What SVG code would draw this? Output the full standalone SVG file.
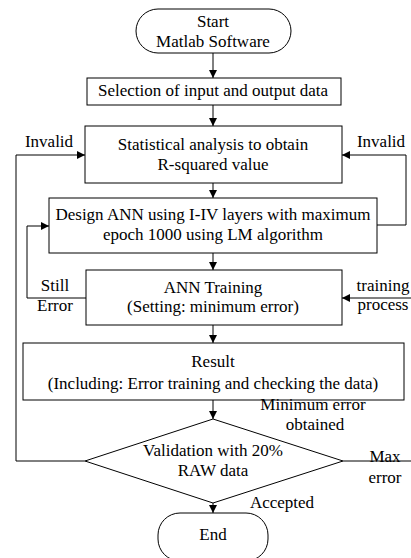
<svg xmlns="http://www.w3.org/2000/svg" width="411" height="558" viewBox="0 0 411 558">
<defs>
<style>
.box{fill:#fff;stroke:#000;stroke-width:1}
.t{font-family:"Liberation Serif","Times New Roman",serif;font-size:17px;fill:#000;text-anchor:middle}
.c{fill:none;stroke:#000;stroke-width:1}
</style>
<marker id="ah" viewBox="0 0 10 10" refX="10" refY="5" markerWidth="8" markerHeight="8" markerUnits="userSpaceOnUse" orient="auto">
<path d="M0,0 L10,5 L0,10 z" fill="#000"/>
</marker>
</defs>
<rect width="411" height="558" fill="#fff"/>
<g id="connectors">
<line class="c" x1="213" y1="53" x2="213" y2="78" marker-end="url(#ah)"/>
<line class="c" x1="213" y1="105" x2="213" y2="126" marker-end="url(#ah)"/>
<line class="c" x1="213" y1="183" x2="213" y2="198" marker-end="url(#ah)"/>
<line class="c" x1="213" y1="253" x2="213" y2="270" marker-end="url(#ah)"/>
<line class="c" x1="213" y1="325" x2="213" y2="343" marker-end="url(#ah)"/>
<line class="c" x1="213" y1="400" x2="213" y2="419" marker-end="url(#ah)"/>
<line class="c" x1="213" y1="503" x2="213" y2="513" marker-end="url(#ah)"/>
<polyline class="c" points="85,461 16,461 16,155 85,155" marker-end="url(#ah)"/>
<polyline class="c" points="377,225 406,225 406,155 342,155" marker-end="url(#ah)"/>
<polyline class="c" points="86,298 27,298 27,226 49,226" marker-end="url(#ah)"/>
<line class="c" x1="411" y1="298" x2="342" y2="298" marker-end="url(#ah)"/>
<line class="c" x1="343" y1="461" x2="411" y2="461"/>
</g>
<g id="start">
<rect class="box" x="136" y="9" width="155" height="44" rx="22" ry="22"/>
<text class="t" x="213" y="27">Start</text>
<text class="t" x="213" y="47">Matlab Software</text>
</g>
<g id="selection">
<rect class="box" x="87" y="78" width="254" height="27"/>
<text class="t" x="213" y="96">Selection of input and output data</text>
</g>
<g id="statistical">
<rect class="box" x="85" y="126" width="257" height="57"/>
<text class="t" x="213" y="150">Statistical analysis to obtain</text>
<text class="t" x="213" y="170">R-squared value</text>
</g>
<g id="design">
<rect class="box" x="49" y="198" width="328" height="55"/>
<text class="t" x="213" y="220">Design ANN using I-IV layers with maximum</text>
<text class="t" x="213" y="240">epoch 1000 using LM algorithm</text>
</g>
<g id="training">
<rect class="box" x="86" y="270" width="256" height="55"/>
<text class="t" x="213" y="293">ANN Training</text>
<text class="t" x="213" y="312">(Setting: minimum error)</text>
</g>
<g id="result">
<rect class="box" x="23" y="343" width="381" height="57"/>
<text class="t" x="213" y="367">Result</text>
<text class="t" x="213" y="389">(Including: Error training and checking the data)</text>
</g>
<g id="validation">
<polygon class="box" points="213,419 343,461 213,503 85,461"/>
<text class="t" x="213" y="456">Validation with 20%</text>
<text class="t" x="213" y="476">RAW data</text>
</g>
<g id="end">
<rect class="box" x="158" y="513" width="110" height="48" rx="22" ry="22"/>
<text class="t" x="213" y="540">End</text>
</g>
<g id="labels">
<text class="t" x="49" y="147">Invalid</text>
<text class="t" x="381" y="147">Invalid</text>
<text class="t" x="55" y="291">Still</text>
<text class="t" x="55" y="311">Error</text>
<text class="t" x="383" y="291">training</text>
<text class="t" x="383" y="310">process</text>
<text class="t" x="313" y="410">Minimum error</text>
<text class="t" x="315" y="430">obtained</text>
<text class="t" x="385" y="462">Max</text>
<text class="t" x="385" y="483">error</text>
<text class="t" x="282" y="508">Accepted</text>
</g>
</svg>
